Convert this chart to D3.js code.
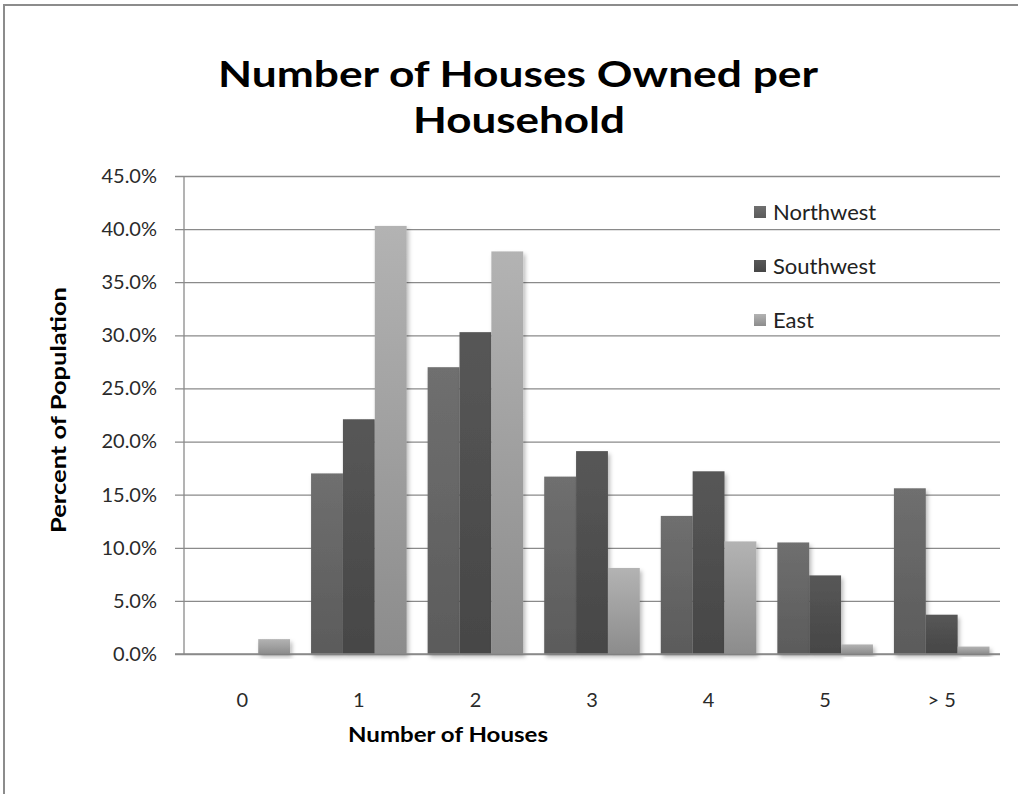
<!DOCTYPE html>
<html>
<head>
<meta charset="utf-8">
<script src="https://cdn.jsdelivr.net/npm/d3@7"></script>
<style>
  body { margin: 0; background: #fff; }
  svg { display: block; }
  text { font-family: Lato, "Open Sans", sans-serif; }
</style>
</head>
<body>
<svg id="chart" width="1018" height="794"></svg>
<script>
// Share of households by number of houses owned, per region (percent)
const categories = ["0", "1", "2", "3", "4", "5", "> 5"];
const seriesNames = ["Northwest", "Southwest", "East"];
const northwest = [0, 17.0, 27.0, 16.7, 13.0, 10.5, 15.6];
const southwest = [0, 22.1, 30.3, 19.1, 17.2, 7.4, 3.7];
const east = [1.4, 40.3, 37.9, 8.1, 10.6, 0.9, 0.7];
const yTicks = [0, 5, 10, 15, 20, 25, 30, 35, 40, 45];

const seriesValues = [northwest, southwest, east];
const gradientStops = [
  ["#6f6f6f", "#5b5b5b"],
  ["#575757", "#464646"],
  ["#b3b3b3", "#8c8c8c"]
];

const svg = d3.select("#chart");
const W = 1018, H = 794;
const plot = { left: 184, right: 1000, top: 176, bottom: 654 };

// Outer frame (top and left edges)
svg.append("line").attr("x1", 3).attr("x2", W).attr("y1", 5).attr("y2", 5)
  .attr("stroke", "#8c8c8c").attr("stroke-width", 2);
svg.append("line").attr("x1", 4).attr("x2", 4).attr("y1", 4).attr("y2", H)
  .attr("stroke", "#8c8c8c").attr("stroke-width", 2);

const defs = svg.append("defs");
gradientStops.forEach((stops, i) => {
  const g = defs.append("linearGradient").attr("id", "grad" + i)
    .attr("x1", 0).attr("y1", 0).attr("x2", 0).attr("y2", 1);
  g.append("stop").attr("offset", "0%").attr("stop-color", stops[0]);
  g.append("stop").attr("offset", "100%").attr("stop-color", stops[1]);
});
const shadow = defs.append("filter").attr("id", "barShadow")
  .attr("x", "-20%").attr("y", "-20%").attr("width", "150%").attr("height", "150%");
shadow.append("feDropShadow").attr("dx", 2).attr("dy", 3).attr("stdDeviation", 2)
  .attr("flood-color", "#000").attr("flood-opacity", 0.28);

const x = d3.scaleBand().domain(categories)
  .range([plot.left, plot.right]).paddingInner(0.18).paddingOuter(0.09);
const xSeries = d3.scaleBand().domain(seriesNames).range([0, x.bandwidth()]);
const y = d3.scaleLinear().domain([0, 45]).range([plot.bottom, plot.top]);

// Title
const title = svg.append("g").attr("font-weight", 700).attr("fill", "#000")
  .attr("text-anchor", "middle");
title.append("text").attr("x", 518).attr("y", 87).attr("font-size", 37)
  .attr("textLength", 600).attr("lengthAdjust", "spacingAndGlyphs")
  .text("Number of Houses Owned per");
title.append("text").attr("x", 519).attr("y", 133).attr("font-size", 37)
  .attr("textLength", 212).attr("lengthAdjust", "spacingAndGlyphs")
  .text("Household");

// Gridlines and y axis
const yAxis = d3.axisLeft(y).tickValues(yTicks)
  .tickSize(plot.right - plot.left + 9)
  .tickFormat(d => d.toFixed(1) + "%");
const yG = svg.append("g").attr("transform", `translate(${plot.right},0)`).call(yAxis);
yG.select(".domain").remove();
yG.selectAll(".tick line").attr("stroke", "#8a8a8a").attr("stroke-width", 1.3);
yG.selectAll(".tick text")
  .attr("x", -(plot.right - plot.left) - 27)
  .attr("font-size", 20).attr("fill", "#2a2a2a");
svg.append("line").attr("x1", plot.left).attr("x2", plot.left)
  .attr("y1", plot.top).attr("y2", plot.bottom)
  .attr("stroke", "#8a8a8a").attr("stroke-width", 1.3);

// Bars
const groups = svg.append("g").selectAll("g").data(categories).join("g")
  .attr("transform", d => `translate(${x(d)},0)`);
groups.selectAll("rect")
  .data((c, ci) => seriesNames.map((s, si) => ({ s, si, v: seriesValues[si][ci] })))
  .join("rect")
  .filter(d => d.v > 0)
  .attr("x", d => xSeries(d.s))
  .attr("width", xSeries.bandwidth())
  .attr("y", d => y(d.v))
  .attr("height", d => y(0) - y(d.v))
  .attr("fill", d => `url(#grad${d.si})`)
  .attr("filter", "url(#barShadow)");

// Baseline
svg.append("line").attr("x1", plot.left - 9).attr("x2", plot.right)
  .attr("y1", y(0)).attr("y2", y(0))
  .attr("stroke", "#8a8a8a").attr("stroke-width", 1.6);

// X category labels
const xAxis = d3.axisBottom(x).tickSize(0).tickPadding(0);
const xG = svg.append("g").attr("transform", `translate(0,${plot.bottom})`).call(xAxis);
xG.select(".domain").remove();
xG.selectAll(".tick text").attr("y", 53).attr("dy", 0)
  .attr("font-size", 20).attr("fill", "#2a2a2a");

// Axis titles
svg.append("text").attr("x", 448).attr("y", 742).attr("text-anchor", "middle")
  .attr("font-size", 20).attr("font-weight", 700).attr("fill", "#000")
  .attr("textLength", 200).attr("lengthAdjust", "spacingAndGlyphs")
  .text("Number of Houses");
svg.append("text").attr("transform", "translate(66,410) rotate(-90)")
  .attr("text-anchor", "middle").attr("font-size", 20).attr("font-weight", 700)
  .attr("fill", "#000").attr("textLength", 246).attr("lengthAdjust", "spacingAndGlyphs")
  .text("Percent of Population");

// Legend
const legend = svg.append("g").selectAll("g").data(seriesNames).join("g")
  .attr("transform", (d, i) => `translate(754,${212 + i * 54})`);
legend.append("rect").attr("x", 0).attr("y", -6).attr("width", 12).attr("height", 12)
  .attr("fill", (d, i) => `url(#grad${i})`);
legend.append("text").attr("x", 19).attr("y", 0).attr("dy", "0.35em")
  .attr("font-size", 22).attr("fill", "#222").text(d => d);
</script>
</body>
</html>
